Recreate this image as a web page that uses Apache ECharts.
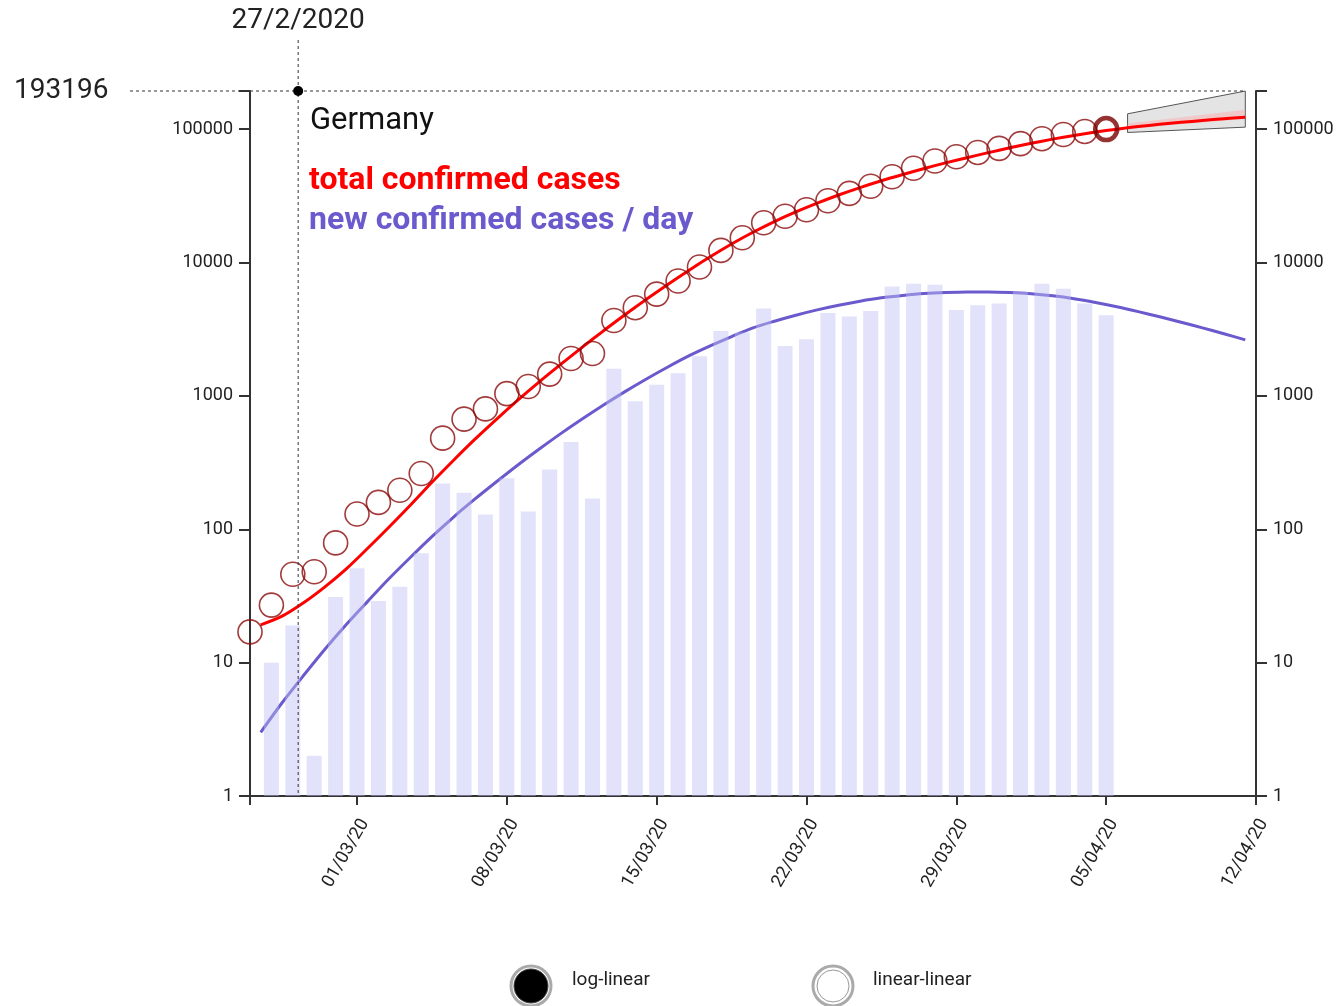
<!DOCTYPE html>
<html><head><meta charset="utf-8">
<script src="https://cdn.jsdelivr.net/npm/echarts@6/dist/echarts.min.js"></script>
<style>html,body{margin:0;padding:0;background:#fff}#c{width:1340px;height:1006px}</style>
</head><body><div id="c"></div>
<script>
// ---- data (day 0 = 25/02/2020) ----
const tickDays   = [0, 5, 12, 19, 26, 33, 40, 47];
const tickLabels = ['', '01/03/20', '08/03/20', '15/03/20', '22/03/20', '29/03/20', '05/04/20', '12/04/20'];

const totalDays  = [0,1,2,3,4,5,6,7,8,9,10,11,12,13,14,15,16,17,18,19,20,21,22,23,24,25,26,27,28,29,30,31,32,33,34,35,36,37,38,39,40];
const totalCases = [17,27,46,48,79,130,159,196,262,482,670,799,1040,1176,1457,1908,2078,3675,4585,5795,7272,9257,12327,15320,19848,22213,24873,29056,32986,37323,43938,50871,57695,62095,66885,71808,77872,84794,91159,96092,100123];

const newDays  = [1,2,3,4,5,6,7,8,9,10,11,12,13,14,15,16,17,18,19,20,21,22,23,24,25,26,27,28,29,30,31,32,33,34,35,36,37,38,39,40];
const newCases = [10,19,2,31,51,29,37,66,220,188,129,241,136,281,451,170,1597,910,1210,1477,1985,3070,2993,4528,2365,2660,4183,3930,4337,6615,6933,6824,4400,4790,4923,6064,6922,6365,4933,4031];

const fitDays = [0.5,1.5,2.5,3.5,4.5,5.5,6.5,7.5,8.5,9.5,10.5,11.5,12.5,13.5,14.5,15.5,16.5,17.5,18.5,19.5,20.5,21.5,22.5,23.5,24.5,25.5,26.5,27.5,28.5,29.5,30.5,31.5,32.5,33.5,34.5,35.5,36.5,37.5,38.5,39.5,40.5,41.5,42.5,43.5,44.5,45.5,46.5];
const fitTotal = [19.2,22.3,28.1,37.0,50.5,72,104,152,225,328,472,665,925,1268,1714,2301,3062,4036,5272,6823,8730,11041,13772,16866,20277,23933,27861,32063,36475,41020,45709,50699,55847,61094,66681,72444,78343,84140,89743,95060,100000,104472,108643,112460,116145,119674,123027];
const fitNew   = [3.0,5.0,8.0,12.6,19.3,28.8,42.7,61.7,88.1,123,168,226,302,398,519,668,851,1072,1334,1641,1995,2371,2786,3236,3631,4027,4416,4786,5129,5433,5662,5848,5957,6012,6012,5957,5834,5623,5346,5012,4656,4285,3917,3565,3236,2924,2630];

const bandDays  = [41, 46.5];
const bandUpper = [130300, 193000];
const bandLower = [94400, 103500];
const innerUpper = [110000, 140000];
const innerLower = [101000, 119000];

const yMax = 193196;
const cursorDay = 2.25;
const cursorLabel = '27/2/2020';
const countryName = 'Germany';

// ---- chart ----
const chart = echarts.init(document.getElementById('c'));
const FONT = 'Roboto';
const logFmt = v => { const r = Math.round(v); const l = Math.log10(r); return Math.abs(l - Math.round(l)) < 1e-6 ? String(r) : ''; };
const xFmt = v => { const i = tickDays.indexOf(Math.round(v)); return i >= 0 ? tickLabels[i] : ''; };
const axisCol = '#333';

function yAx(pos) {
  return {
    type: 'log', logBase: 10, min: 1, max: yMax, position: pos, splitNumber: 5,
    axisLine: { show: true, lineStyle: { color: axisCol, width: 2 } },
    axisTick: { show: true, length: 11, lineStyle: { color: axisCol, width: 2 } },
    axisLabel: { formatter: logFmt, fontSize: 18, color: '#222', fontFamily: FONT, margin: 17 },
    splitLine: { show: false }
  };
}

const band = (up, lo, style) => ({
  type: 'custom', z: 3, silent: true,
  data: [[bandDays[0], up[0]]],
  encode: { x: 0, y: 1 },
  renderItem: (params, api) => {
    const top = up.map((v, i) => api.coord([bandDays[i], v]));
    const bot = lo.map((v, i) => api.coord([bandDays[i], v])).reverse();
    return { type: 'polygon', shape: { points: top.concat(bot) }, style: style };
  }
});

chart.setOption({
  animation: false,
  textStyle: { fontFamily: FONT },
  grid: { left: 250, right: 84, top: 91, bottom: 210, containLabel: false },
  xAxis: {
    type: 'value', min: 0, max: 47,
    axisLine: { onZero: false, lineStyle: { color: axisCol, width: 2 } },
    axisTick: { show: true, customValues: tickDays, length: 9, lineStyle: { color: axisCol, width: 2 } },
    axisLabel: { customValues: tickDays, formatter: xFmt, rotate: 60, fontSize: 18, color: '#222', fontFamily: FONT, margin: 20, verticalAlign: 'top' },
    splitLine: { show: false }
  },
  yAxis: [yAx('left'), yAx('right')],
  series: [
    { type: 'line', z: 1, data: fitDays.map((d, i) => [d, fitNew[i]]), showSymbol: false, smooth: 0.3,
      lineStyle: { color: '#6a5acd', width: 3 } },
    { type: 'bar', z: 2, barWidth: 15, data: newDays.map((d, i) => [d, newCases[i]]),
      itemStyle: { color: 'rgba(190,190,245,0.45)' } },
    band(bandUpper, bandLower, { fill: '#e4e4e4', stroke: '#555', lineWidth: 1 }),
    band(innerUpper, innerLower, { fill: 'rgba(255,170,170,0.45)' }),
    { type: 'line', z: 4, data: fitDays.map((d, i) => [d, fitTotal[i]]), showSymbol: false, smooth: 0.3,
      lineStyle: { color: '#ff0000', width: 3 } },
    { type: 'scatter', z: 5, symbol: 'circle', symbolSize: 24,
      data: totalDays.slice(0, -1).map((d, i) => [d, totalCases[i]]),
      itemStyle: { color: 'rgba(0,0,0,0)', borderColor: '#8b0a0a', borderWidth: 1.6 } },
    { type: 'scatter', z: 6, symbol: 'circle', symbolSize: 22,
      data: [[totalDays[totalDays.length - 1], totalCases[totalCases.length - 1]]],
      itemStyle: { color: 'rgba(0,0,0,0)', borderColor: '#7a0000', borderWidth: 4.5 } }
  ]
});

const P = (x, y) => chart.convertToPixel({ xAxisIndex: 0, yAxisIndex: 0 }, [x, y]);
const [cx, cy] = P(cursorDay, yMax);
const [, by] = P(cursorDay, 1);
const [ex] = P(bandDays[1], yMax);
const dash = { stroke: '#333', lineWidth: 1, lineDash: [3, 3] };

chart.setOption({
  graphic: [
    { type: 'line', shape: { x1: 130, y1: cy, x2: ex, y2: cy }, style: dash, z: 10 },
    { type: 'line', shape: { x1: cx, y1: 40, x2: cx, y2: by }, style: dash, z: 10 },
    { type: 'circle', shape: { cx: cx, cy: cy, r: 5 }, style: { fill: '#000' }, z: 11 },
    { type: 'text', x: cx, y: 21, style: { text: cursorLabel, fontSize: 28, fontFamily: FONT, fill: '#222', align: 'center', verticalAlign: 'middle' }, z: 11 },
    { type: 'text', x: 14, y: cy, style: { text: String(yMax), fontSize: 28, fontFamily: FONT, fill: '#222', align: 'left', verticalAlign: 'middle' }, z: 11 },
    { type: 'text', x: 310, y: 121, style: { text: countryName, fontSize: 31, fontFamily: FONT, fill: '#111', align: 'left', verticalAlign: 'middle' }, z: 11 },
    { type: 'text', x: 309, y: 181, style: { text: 'total confirmed cases', fontSize: 32, fontWeight: 'bold', fontFamily: FONT, fill: '#ff0000', align: 'left', verticalAlign: 'middle' }, z: 11 },
    { type: 'text', x: 309, y: 221, style: { text: 'new confirmed cases / day', fontSize: 32, fontWeight: 'bold', fontFamily: FONT, fill: '#6a5acd', align: 'left', verticalAlign: 'middle' }, z: 11 },
    // radio-button legend
    { type: 'circle', shape: { cx: 531, cy: 986, r: 20 }, style: { fill: '#fff', stroke: '#aaa', lineWidth: 3 }, z: 11 },
    { type: 'circle', shape: { cx: 531, cy: 986, r: 17 }, style: { fill: '#000', stroke: '#444', lineWidth: 1 }, z: 12 },
    { type: 'text', x: 572, y: 980, style: { text: 'log-linear', fontSize: 19, fontFamily: FONT, fill: '#222', align: 'left', verticalAlign: 'middle' }, z: 11 },
    { type: 'circle', shape: { cx: 833, cy: 986, r: 20 }, style: { fill: '#fff', stroke: '#aaa', lineWidth: 3 }, z: 11 },
    { type: 'circle', shape: { cx: 833, cy: 986, r: 16 }, style: { fill: '#fff', stroke: '#999', lineWidth: 1 }, z: 12 },
    { type: 'text', x: 873, y: 980, style: { text: 'linear-linear', fontSize: 19, fontFamily: FONT, fill: '#222', align: 'left', verticalAlign: 'middle' }, z: 11 }
  ]
});
</script>
</body></html>
